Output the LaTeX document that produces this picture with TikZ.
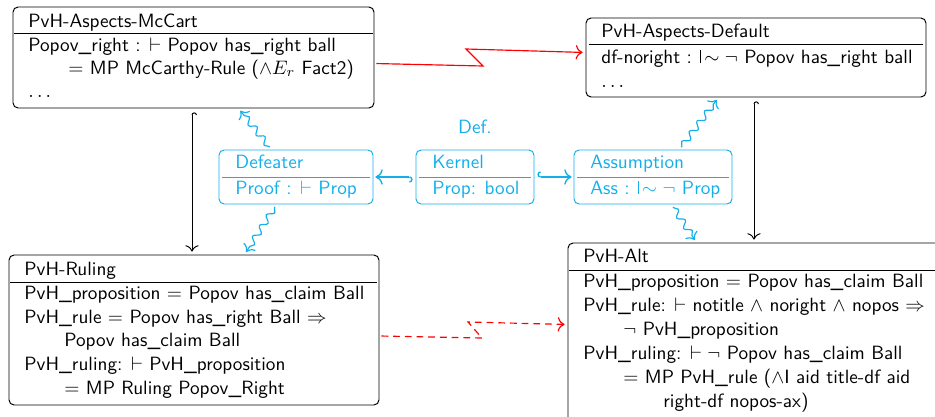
\documentclass[tikz,border=0pt]{standalone}
\usepackage{amsmath,amssymb}
\usetikzlibrary{arrows.meta,calc,fit,decorations.pathmorphing}
\definecolor{kblue}{RGB}{20,175,235}
\newcommand{\dfturn}{\mathrel{\rule{0.4pt}{0.68em}\mkern-2.2mu\sim}}
\begin{document}
\begin{tikzpicture}[x=0.5128pt,y=-0.5128pt,font=\sffamily\fontsize{9.85pt}{12pt}\selectfont,
  box/.style={draw,rounded corners=2.6pt,inner sep=0pt,line width=0.5pt},
  kbox/.style={box,draw=kblue},
  txt/.style={anchor=base west,inner sep=0pt},
  sep/.style={line width=0.5pt},
  hookarr/.style={line width=0.5pt,{Hooks[right]}-{To[scale=1.2]},shorten <=2pt,shorten >=1.5pt},
  khook/.style={kblue,line width=0.7pt,{Hooks[right]}-{To[scale=1.2]},shorten <=1.5pt,shorten >=1pt},
  wig/.style={kblue,line width=0.6pt,-{To[scale=1.2]},decorate,
     decoration={snake,amplitude=1.6pt,segment length=6.5pt,pre length=2pt,post length=3pt},
     shorten <=1.5pt,shorten >=1.5pt},
  zig/.style={red,line width=0.6pt,-{To[scale=1.2]},shorten <=1pt,shorten >=1.5pt},
  dzig/.style={zig,dashed,dash pattern=on 3.5pt off 2.5pt}]
\clip (0,0) rectangle (935,416);
\useasboundingbox (0,0) rectangle (935,416);

% McCart box
\node[box,fit={(13,7) (374,108)}] (mc) {};
\node[txt] (mct) at (28,27) {PvH-Aspects-McCart};
\draw[sep] (14,33) -- (373,33);
\node[txt] (mc1) at (28,51) {Popov\_right : $\vdash$ Popov has\_right ball};
\node[txt] (mc2) at (68,74) {$=$ MP McCarthy-Rule ($\wedge E_r$ Fact2)};
\node[txt] (mc3) at (28,97) {$\ldots$};

% Default box
\node[box,fit={(586,18) (926,97)}] (dft) {};
\node[txt] (dftt) at (601,37) {PvH-Aspects-Default};
\draw[sep] (589,44) -- (923,44);
\node[txt] (dft1) at (601,63) {df-noright : $\dfturn\neg$ Popov has\_right ball};
\node[txt] (dft2) at (601,87) {$\ldots$};

% Ruling box
\node[box,fit={(9,255) (379,405)}] (rl) {};
\node[txt] (rlt) at (24,275) {PvH-Ruling};
\draw[sep] (10,282) -- (377,282);
\node[txt] (rl1) at (24,299) {PvH\_proposition $=$ Popov has\_claim Ball};
\node[txt] (rl2) at (24,323) {PvH\_rule $=$ Popov has\_right Ball $\Rightarrow$};
\node[txt] (rl3) at (64,346) {Popov has\_claim Ball};
\node[txt] (rl4) at (24,370) {PvH\_ruling: $\vdash$ PvH\_proposition};
\node[txt] (rl5) at (64,394) {$=$ MP Ruling Popov\_Right};

% Alt box
\node[box,fit={(568,243) (960,440)}] (alt) {};
\node[txt] (altt) at (583,262) {PvH-Alt};
\draw[sep] (569,270) -- (958,270);
\node[txt] (alt1) at (583,287) {PvH\_proposition $=$ Popov has\_claim Ball};
\node[txt] (alt2) at (583,311) {PvH\_rule: $\vdash$ notitle $\wedge$ noright $\wedge$ nopos $\Rightarrow$};
\node[txt] (alt3) at (623,335) {$\neg$ PvH\_proposition};
\node[txt] (alt4) at (583,359) {PvH\_ruling: $\vdash\neg$ Popov has\_claim Ball};
\node[txt] (alt5) at (623,383) {$=$ MP PvH\_rule ($\wedge$I aid title-df aid};
\node[txt] (alt6) at (663,407) {right-df nopos-ax)};

% Kernel family
\node[kbox,fit={(219,150) (373,204)}] (def) {};
\node[txt,kblue] (deft) at (235,168) {Defeater};
\draw[sep,kblue] (222,177) -- (370,177);
\node[txt,kblue] (def1) at (235,194) {Proof : $\vdash$ Prop};

\node[kbox,fit={(416,150) (534,204)}] (ker) {};
\node[txt,kblue] (kert) at (432,168) {Kernel};
\draw[sep,kblue] (419,177) -- (531,177);
\node[txt,kblue] (ker1) at (432,194) {Prop: bool};

\node[kbox,fit={(574,150) (732,204)}] (ass) {};
\node[txt,kblue] (asst) at (590,168) {Assumption};
\draw[sep,kblue] (577,177) -- (729,177);
\node[txt,kblue] (ass1) at (590,194) {Ass : $\dfturn\neg$ Prop};

\node[kblue,anchor=base,inner sep=0pt] (deflab) at (475,133) {Def.};

% black hooked arrows
\coordinate (bx1) at (192,0);
\coordinate (bx2) at (754,0);
\draw[hookarr] (mc.south -| bx1) -- (rl.north -| bx1);
\draw[hookarr] (dft.south -| bx2) -- (alt.north -| bx2);

% kernel hooked arrows
\draw[khook] (ker.west) -- (def.east);
\draw[khook] (ker.east) -- (ass.west);

% wiggly arrows
\draw[wig] ($(def.north west)+(53,0)$) -- ($(mc.south west)+(226,0)$);
\draw[wig] ($(def.south west)+(58,0)$) -- ($(rl.north west)+(236,0)$);
\draw[wig] ($(ass.north west)+(106,0)$) -- ($(dft.south west)+(133,0)$);
\draw[wig] ($(ass.south west)+(98,0)$) -- ($(alt.north west)+(129,0)$);

% red lightning arrows
\coordinate (z1) at (483,66);
\coordinate (z2) at (466,49);
\draw[zig] ($(mc.east)+(0,6)$) -- (z1) -- (z2) -- ($(dft.west)+(0,-5)$);
\coordinate (z3) at (482,338);
\coordinate (z4) at (468,322);
\draw[dzig] ($(rl.east)+(0,6)$) -- (z3) -- (z4) -- ($(alt.west)+(0,-17)$);
\end{tikzpicture}
\end{document}
